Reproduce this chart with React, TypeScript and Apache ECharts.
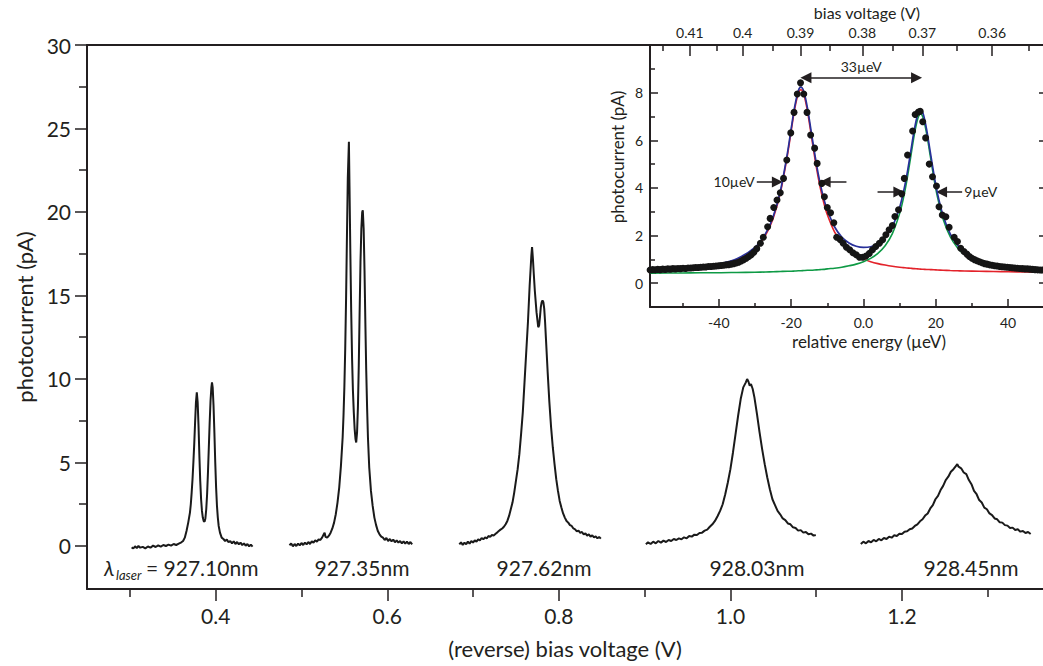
import React, { useEffect, useRef } from 'react';
import * as echarts from 'echarts';

// ---------- main panel data ----------
const mainXMajor = [0.4, 0.6, 0.8, 1.0, 1.2];
const mainXMinor = [0.3, 0.5, 0.7, 0.9, 1.1, 1.3];
const mainYMajor = [0, 5, 10, 15, 20, 25, 30];
const mainYMinor = [2.5, 7.5, 12.5, 17.5, 22.5, 27.5];

const trace927_10: [number, number][] = [
  [0.302, -0.08], [0.304, -0.15], [0.306, -0.02], [0.308, -0.12], [0.310, 0.0], [0.312, -0.1], [0.315, -0.05],
  [0.318, -0.14], [0.321, -0.03], [0.324, -0.1], [0.327, 0.02], [0.330, -0.06], [0.333, 0.04], [0.336, -0.04],
  [0.339, 0.06], [0.342, 0.0], [0.345, 0.08], [0.348, 0.02], [0.351, 0.12], [0.354, 0.06], [0.357, 0.14],
  [0.360, 0.22], [0.362, 0.3], [0.364, 0.5], [0.366, 0.9], [0.368, 1.4], [0.370, 2.0], [0.371, 2.5], [0.372, 3.2],
  [0.373, 4.0], [0.374, 5.0], [0.375, 6.1], [0.376, 7.4], [0.377, 8.6], [0.378, 9.2], [0.379, 8.6], [0.380, 7.2],
  [0.381, 5.4], [0.382, 3.9], [0.383, 2.8], [0.384, 2.1], [0.385, 1.7], [0.386, 1.5], [0.387, 1.45], [0.388, 1.65],
  [0.389, 2.2], [0.390, 3.1], [0.391, 4.4], [0.392, 5.9], [0.393, 7.4], [0.394, 8.7], [0.395, 9.5], [0.3957, 9.8],
  [0.3965, 9.5], [0.3975, 8.4], [0.3985, 6.8], [0.3995, 5.0], [0.4005, 3.5], [0.4015, 2.4], [0.4025, 1.7],
  [0.4035, 1.2], [0.405, 0.8], [0.407, 0.5], [0.409, 0.42], [0.411, 0.3], [0.413, 0.38], [0.415, 0.22],
  [0.417, 0.3], [0.419, 0.16], [0.421, 0.28], [0.423, 0.12], [0.425, 0.24], [0.427, 0.1], [0.429, 0.2],
  [0.431, 0.05], [0.433, 0.16], [0.435, 0.02], [0.437, 0.12], [0.439, -0.02], [0.441, 0.08], [0.443, -0.04],
];

const trace927_35: [number, number][] = [
  [0.486, 0.05], [0.488, 0.15], [0.490, -0.02], [0.492, 0.12], [0.494, 0.0], [0.496, 0.14], [0.498, 0.04],
  [0.500, 0.18], [0.502, 0.06], [0.504, 0.2], [0.506, 0.1], [0.508, 0.24], [0.510, 0.12], [0.512, 0.28],
  [0.514, 0.2], [0.516, 0.34], [0.518, 0.26], [0.520, 0.4], [0.522, 0.36], [0.524, 0.5], [0.526, 0.7],
  [0.527, 0.8], [0.528, 0.55], [0.530, 0.5], [0.532, 0.62], [0.534, 0.8], [0.536, 1.05], [0.538, 1.4],
  [0.540, 1.9], [0.542, 2.6], [0.544, 3.5], [0.546, 4.8], [0.548, 6.5], [0.549, 7.8], [0.550, 9.5],
  [0.551, 11.8], [0.552, 14.8], [0.553, 18.5], [0.554, 22.0], [0.5553, 24.2], [0.556, 21.5], [0.557, 17.5],
  [0.558, 14.0], [0.559, 11.2], [0.560, 9.3], [0.561, 8.0], [0.562, 7.0], [0.563, 6.4], [0.5638, 6.2],
  [0.5648, 6.8], [0.5658, 8.3], [0.5668, 10.8], [0.5678, 14.0], [0.5688, 17.0], [0.5698, 19.0], [0.5708, 20.0],
  [0.5715, 20.1], [0.5725, 19.0], [0.5735, 16.5], [0.5745, 13.3], [0.5755, 10.5], [0.5765, 8.3], [0.5775, 6.5],
  [0.579, 4.7], [0.581, 3.3], [0.583, 2.4], [0.585, 1.7], [0.587, 1.25], [0.589, 0.9], [0.591, 0.7],
  [0.593, 0.56], [0.595, 0.5], [0.597, 0.36], [0.599, 0.48], [0.601, 0.3], [0.603, 0.42], [0.605, 0.28],
  [0.607, 0.38], [0.609, 0.22], [0.611, 0.34], [0.613, 0.2], [0.615, 0.3], [0.617, 0.16], [0.619, 0.28],
  [0.621, 0.14], [0.623, 0.26], [0.625, 0.12], [0.627, 0.24], [0.629, 0.1],
];

const trace927_62: [number, number][] = [
  [0.684, 0.1], [0.686, 0.22], [0.688, 0.06], [0.690, 0.2], [0.692, 0.1], [0.694, 0.26], [0.696, 0.14],
  [0.698, 0.3], [0.700, 0.2], [0.702, 0.34], [0.704, 0.26], [0.706, 0.4], [0.708, 0.34], [0.710, 0.48],
  [0.712, 0.4], [0.714, 0.52], [0.716, 0.46], [0.718, 0.6], [0.720, 0.55], [0.722, 0.66], [0.724, 0.62],
  [0.726, 0.72], [0.728, 0.8], [0.730, 0.9], [0.732, 0.98], [0.734, 1.05], [0.736, 1.15], [0.738, 1.3],
  [0.740, 1.5], [0.742, 1.8], [0.744, 2.2], [0.746, 2.6], [0.748, 3.2], [0.750, 3.9], [0.752, 4.6],
  [0.754, 5.5], [0.756, 6.7], [0.758, 8.0], [0.760, 9.8], [0.762, 11.6], [0.764, 13.4], [0.766, 15.6],
  [0.767, 16.5], [0.768, 17.4], [0.7688, 17.9], [0.7698, 17.2], [0.7708, 16.3], [0.772, 15.3], [0.774, 14.0],
  [0.776, 13.1], [0.777, 13.2], [0.778, 13.7], [0.779, 14.3], [0.780, 14.6], [0.781, 14.7], [0.782, 14.6],
  [0.783, 14.2], [0.784, 13.4], [0.785, 12.4], [0.787, 10.4], [0.789, 8.6], [0.791, 7.1], [0.793, 5.9],
  [0.795, 4.9], [0.797, 4.0], [0.799, 3.3], [0.801, 2.7], [0.803, 2.3], [0.805, 1.95], [0.807, 1.7],
  [0.809, 1.5], [0.811, 1.4], [0.813, 1.25], [0.815, 1.2], [0.817, 1.05], [0.819, 1.0], [0.821, 0.88],
  [0.823, 0.92], [0.825, 0.78], [0.827, 0.84], [0.829, 0.7], [0.831, 0.76], [0.833, 0.62], [0.835, 0.7],
  [0.837, 0.56], [0.839, 0.64], [0.841, 0.52], [0.843, 0.58], [0.845, 0.46], [0.847, 0.54], [0.849, 0.44],
];

const trace928_03: [number, number][] = [
  [0.9015, 0.1], [0.904, 0.22], [0.907, 0.12], [0.910, 0.26], [0.913, 0.16], [0.916, 0.3], [0.919, 0.2],
  [0.922, 0.32], [0.925, 0.24], [0.928, 0.36], [0.931, 0.3], [0.934, 0.42], [0.937, 0.36], [0.940, 0.46],
  [0.943, 0.4], [0.946, 0.52], [0.949, 0.46], [0.952, 0.6], [0.955, 0.56], [0.958, 0.68], [0.961, 0.66],
  [0.964, 0.78], [0.967, 0.8], [0.970, 0.92], [0.973, 0.98], [0.976, 1.15], [0.979, 1.3], [0.982, 1.5],
  [0.985, 1.78], [0.988, 2.1], [0.991, 2.5], [0.994, 3.1], [0.997, 3.8], [1.000, 4.6], [1.003, 5.6],
  [1.006, 6.7], [1.009, 7.8], [1.012, 8.8], [1.015, 9.5], [1.018, 9.8], [1.0195, 10.0], [1.021, 9.85],
  [1.0225, 9.6], [1.024, 9.7], [1.026, 9.4], [1.028, 8.9], [1.031, 7.9], [1.034, 6.8], [1.037, 5.8],
  [1.040, 4.9], [1.043, 4.1], [1.046, 3.4], [1.049, 2.8], [1.052, 2.45], [1.055, 2.1], [1.058, 1.9],
  [1.061, 1.65], [1.064, 1.55], [1.067, 1.35], [1.070, 1.3], [1.073, 1.12], [1.076, 1.08], [1.079, 0.92],
  [1.082, 0.95], [1.085, 0.8], [1.088, 0.84], [1.091, 0.7], [1.094, 0.74], [1.097, 0.62], [1.0995, 0.66],
];

const trace928_45: [number, number][] = [
  [1.152, 0.12], [1.155, 0.26], [1.158, 0.16], [1.161, 0.3], [1.164, 0.22], [1.167, 0.36], [1.170, 0.28],
  [1.173, 0.42], [1.176, 0.34], [1.179, 0.48], [1.182, 0.42], [1.185, 0.56], [1.188, 0.5], [1.191, 0.64],
  [1.194, 0.6], [1.197, 0.74], [1.200, 0.72], [1.203, 0.86], [1.206, 0.88], [1.209, 1.0], [1.212, 1.05],
  [1.215, 1.2], [1.218, 1.3], [1.221, 1.48], [1.224, 1.6], [1.227, 1.82], [1.230, 1.95], [1.233, 2.25],
  [1.236, 2.45], [1.239, 2.8], [1.242, 3.0], [1.245, 3.35], [1.248, 3.6], [1.251, 3.95], [1.254, 4.15],
  [1.257, 4.45], [1.260, 4.6], [1.263, 4.8], [1.2645, 4.9], [1.266, 4.75], [1.269, 4.65], [1.272, 4.4],
  [1.275, 4.3], [1.278, 3.95], [1.281, 3.7], [1.284, 3.3], [1.287, 3.1], [1.290, 2.75], [1.293, 2.6],
  [1.296, 2.3], [1.299, 2.2], [1.302, 1.95], [1.305, 1.85], [1.308, 1.65], [1.311, 1.6], [1.314, 1.42],
  [1.317, 1.4], [1.320, 1.25], [1.323, 1.22], [1.326, 1.08], [1.329, 1.1], [1.332, 0.96], [1.335, 1.0],
  [1.338, 0.86], [1.341, 0.9], [1.344, 0.78], [1.347, 0.84], [1.350, 0.72],
];

const laserWavelengths = ['927.10nm', '927.35nm', '927.62nm', '928.03nm', '928.45nm'];

// ---------- inset data ----------
const insetEnergyMajor = [-40, -20, 0, 20, 40];
const insetEnergyMinor = [-50, -30, -10, 10, 30];
const insetCurrentMajor = [0, 2, 4, 6, 8];
const insetCurrentMinor = [1, 3, 5, 7, 9];
const biasVoltageLabels = ['0.41', '0.4', '0.39', '0.38', '0.37', '0.36'];
const biasVoltageMajorEnergy = [-48.0, -33.4, -17.4, -0.3, 16.3, 35.6];
const biasVoltageMinorEnergy = [-55.4, -40.6, -25.1, -9.4, 8.0, 25.9, 45.8];

const insetDots: [number, number][] = [
  [-59, 0.55], [-58.3, 0.57], [-57.6, 0.56], [-56.9, 0.58], [-56.2, 0.57], [-55.5, 0.59], [-54.8, 0.58],
  [-54.1, 0.6], [-53.4, 0.59], [-52.7, 0.61], [-52, 0.6], [-51.3, 0.62], [-50.6, 0.61], [-49.9, 0.63],
  [-49.2, 0.62], [-48.5, 0.64], [-47.8, 0.64], [-47.1, 0.65], [-46.4, 0.66], [-45.7, 0.66], [-45, 0.67],
  [-44.3, 0.68], [-43.6, 0.68], [-42.9, 0.7], [-42.2, 0.7], [-41.5, 0.71], [-40.8, 0.72], [-40.1, 0.73],
  [-39.4, 0.74], [-38.7, 0.75], [-38, 0.77], [-37.3, 0.78], [-36.6, 0.8], [-35.9, 0.82], [-35.2, 0.85],
  [-34.5, 0.88], [-33.8, 0.93], [-33.1, 0.99], [-32.4, 1.05], [-31.7, 1.12], [-31, 1.2], [-30.3, 1.3],
  [-29.5, 1.45], [-28.5, 1.68], [-27.7, 1.93], [-26.5, 2.37], [-25.8, 2.72], [-24.8, 3.18], [-23.9, 3.49],
  [-23.0, 3.8], [-22.1, 4.4], [-21.2, 5.17], [-20.1, 6.31], [-19.2, 7.17], [-18.3, 7.94], [-17.4, 8.41],
  [-16.5, 7.94], [-15.6, 7.17], [-14.6, 6.22], [-13.5, 5.67], [-12.8, 5.03], [-11.5, 4.19], [-10.8, 3.63],
  [-10.0, 3.18], [-9.1, 2.96], [-8.2, 2.54], [-7.4, 1.93], [-6.5, 1.84], [-5.6, 1.68], [-4.7, 1.51],
  [-3.8, 1.4], [-2.9, 1.28], [-2.0, 1.19], [-1.1, 1.09], [-0.2, 1.09], [0.7, 1.14], [1.6, 1.25], [2.5, 1.4],
  [3.4, 1.54], [4.4, 1.68], [5.3, 1.82], [6.2, 2.03], [7.1, 2.24], [8.0, 2.42], [8.7, 2.8], [9.7, 3.08],
  [10.6, 3.75], [11.3, 4.4], [12.2, 5.38], [13.6, 6.39], [14.3, 7.08], [15.2, 7.19], [15.7, 7.22],
  [16.4, 6.78], [17.2, 6.1], [18.2, 5.0], [19.1, 4.47], [20.2, 4.08], [20.9, 3.21], [21.8, 2.86],
  [22.8, 2.79], [23.7, 2.35], [25.1, 1.93], [26.0, 1.75], [26.9, 1.47], [27.8, 1.33], [28.6, 1.22],
  [29.3, 1.12], [30, 1.05], [30.7, 0.99], [31.4, 0.94], [32.1, 0.9], [32.8, 0.86], [33.5, 0.82], [34.2, 0.8],
  [34.9, 0.77], [35.6, 0.75], [36.3, 0.73], [37, 0.72], [37.7, 0.7], [38.4, 0.69], [39.1, 0.68], [39.8, 0.67],
  [40.5, 0.66], [41.2, 0.65], [41.9, 0.64], [42.6, 0.63], [43.3, 0.62], [44, 0.61], [44.7, 0.6], [45.4, 0.6],
  [46.1, 0.59], [46.8, 0.58], [47.5, 0.57], [48.2, 0.56], [48.9, 0.55], [49.5, 0.55],
];

const fitEnergy = [
  -59, -50, -45, -40, -35, -30, -27, -25, -23, -21, -20, -19, -18, -17.3, -16.5, -15.5, -14.5, -13, -12, -11,
  -10, -8, -6, -4, -2, 0, 2, 4, 6, 8, 10, 11, 12, 13, 14, 15, 15.8, 16.5, 17.5, 18.5, 19.5, 20.5, 22, 24, 26,
  28, 32, 36, 40, 45, 49.6,
];
const fitRed = [
  0.53, 0.6, 0.66, 0.78, 0.99, 1.45, 2.04, 2.71, 3.77, 5.39, 6.38, 7.32, 7.97, 8.12, 7.93, 7.24, 6.28, 4.85,
  4.05, 3.4, 2.88, 2.15, 1.68, 1.37, 1.16, 1.01, 0.9, 0.82, 0.76, 0.71, 0.67, 0.655, 0.64, 0.625, 0.61, 0.6,
  0.59, 0.585, 0.575, 0.57, 0.565, 0.555, 0.545, 0.53, 0.52, 0.51, 0.5, 0.49, 0.48, 0.47, 0.46,
];
const fitGreen = [
  0.42, 0.43, 0.44, 0.44, 0.45, 0.46, 0.47, 0.48, 0.49, 0.5, 0.5, 0.51, 0.52, 0.52, 0.53, 0.54, 0.54, 0.56,
  0.57, 0.58, 0.6, 0.63, 0.67, 0.73, 0.8, 0.9, 1.04, 1.25, 1.57, 2.08, 2.92, 3.53, 4.31, 5.23, 6.18, 6.89,
  7.1, 6.94, 6.26, 5.33, 4.4, 3.6, 2.71, 1.95, 1.49, 1.2, 0.88, 0.72, 0.62, 0.56, 0.52,
];
const fitSum = [
  0.54, 0.62, 0.69, 0.81, 1.03, 1.5, 2.1, 2.78, 3.85, 5.48, 6.47, 7.42, 8.08, 8.23, 8.05, 7.37, 6.41, 5.0,
  4.21, 3.57, 3.07, 2.37, 1.94, 1.69, 1.55, 1.5, 1.53, 1.66, 1.92, 2.38, 3.18, 3.78, 4.54, 5.45, 6.38, 7.08,
  7.28, 7.12, 6.43, 5.49, 4.56, 3.75, 2.85, 2.07, 1.6, 1.3, 0.97, 0.8, 0.69, 0.62, 0.57,
];

// splitting arrow: [fromE, toE, current, label]
const splittingArrow: [number, number, number, string] = [-17.4, 16.2, 8.62, '33µeV'];
// linewidth arrows: [tailE, tipE, current, label]
const linewidthArrows: [number, number, number, string][] = [
  [-29.5, -22.3, 4.25, '10µeV'],
  [-4.7, -12.1, 4.25, ''],
  [3.9, 11.3, 3.83, ''],
  [27.3, 20.1, 3.83, '9µeV'],
];

const FONT = 'Lato, "Open Sans", "DejaVu Sans", sans-serif';
const INK = '#231f20';

function pairs(xs: number[], ys: number[]) {
  return xs.map((x, i) => [x, ys[i]]);
}

function buildOption() {
  const tickLine = { color: INK, width: 1.5 };
  const axisLine = { show: true, onZero: false, lineStyle: { color: INK, width: 2 } };
  const noLine = { show: false, onZero: false };
  const ARROW = 11;
  const tipShift = 1.5; // energy units of half an arrow head

  const arrowData: any[] = [];
  {
    const [a, b, c, lab] = splittingArrow;
    arrowData.push([
      {
        coord: [a + tipShift, c],
        symbol: 'triangle',
        label: {
          show: true, position: 'insideMiddleTop', distance: 4, formatter: lab,
          color: INK, fontSize: 14, fontFamily: FONT,
        },
      },
      { coord: [b - tipShift, c], symbol: 'triangle' },
    ]);
  }
  linewidthArrows.forEach(([tail, tip, c, lab]) => {
    const dir = tip > tail ? 1 : -1;
    arrowData.push([
      {
        coord: [tail, c],
        symbol: 'none',
        label: {
          show: lab !== '', position: 'start', distance: 2, formatter: lab,
          color: INK, fontSize: 14, fontFamily: FONT,
        },
      },
      { coord: [tip - dir * tipShift, c], symbol: 'triangle' },
    ]);
  });

  const traceSeries = [trace927_10, trace927_35, trace927_62, trace928_03, trace928_45].map((d, i) => ({
    type: 'line',
    name: laserWavelengths[i],
    xAxisIndex: 0,
    yAxisIndex: 0,
    data: d,
    showSymbol: false,
    symbol: 'none',
    lineStyle: { color: '#1a1a1a', width: 2 },
    silent: true,
    z: 3,
  }));

  return {
    animation: false,
    backgroundColor: '#ffffff',
    textStyle: { fontFamily: FONT, color: INK },
    grid: [
      { left: 87, top: 45, width: 957, height: 544, show: false },
      { left: 650, top: 45, width: 394, height: 262, show: true, backgroundColor: '#ffffff', borderWidth: 0 },
    ],
    xAxis: [
      {
        type: 'value', gridIndex: 0, position: 'bottom', min: 0.25, max: 1.3644,
        axisLine, splitLine: { show: false },
        axisTick: { show: true, inside: false, length: 12, customValues: mainXMajor, lineStyle: tickLine },
        axisLabel: {
          show: true, customValues: mainXMajor, margin: 16, fontSize: 21, color: INK, fontFamily: FONT,
          formatter: (v: number) => v.toFixed(1),
        },
        name: '(reverse) bias voltage (V)', nameLocation: 'middle', nameGap: 48,
        nameTextStyle: { fontSize: 22, color: INK, fontFamily: FONT },
      },
      {
        type: 'value', gridIndex: 0, position: 'bottom', min: 0.25, max: 1.3644,
        axisLine: noLine, splitLine: { show: false },
        axisTick: { show: true, inside: false, length: 8, customValues: mainXMinor, lineStyle: tickLine },
        axisLabel: { show: false },
      },
      {
        type: 'value', gridIndex: 0, position: 'top', min: 0.25, max: 1.3644,
        axisLine, splitLine: { show: false }, axisTick: { show: false }, axisLabel: { show: false },
      },
      {
        type: 'value', gridIndex: 1, position: 'bottom', min: -59.03, max: 49.66,
        axisLine, splitLine: { show: false },
        axisTick: { show: true, inside: true, length: 8, customValues: insetEnergyMajor, lineStyle: tickLine },
        axisLabel: {
          show: true, customValues: insetEnergyMajor, margin: 8, fontSize: 14, color: INK, fontFamily: FONT,
          formatter: (v: number) => (v === 0 ? '0.0' : String(v)),
        },
      },
      {
        type: 'value', gridIndex: 1, position: 'bottom', min: -59.03, max: 49.66,
        axisLine: noLine, splitLine: { show: false },
        axisTick: { show: true, inside: true, length: 4, customValues: insetEnergyMinor, lineStyle: tickLine },
        axisLabel: { show: false },
      },
      {
        type: 'value', gridIndex: 1, position: 'top', min: -59.03, max: 49.66,
        axisLine, splitLine: { show: false },
        axisTick: { show: true, inside: true, length: 11, customValues: biasVoltageMajorEnergy, lineStyle: tickLine },
        axisLabel: {
          show: true, customValues: biasVoltageMajorEnergy, margin: 6, fontSize: 14, color: INK, fontFamily: FONT,
          formatter: (v: number) => {
            const i = biasVoltageMajorEnergy.findIndex((e) => Math.abs(e - v) < 1e-6);
            return i >= 0 ? biasVoltageLabels[i] : '';
          },
        },
      },
      {
        type: 'value', gridIndex: 1, position: 'top', min: -59.03, max: 49.66,
        axisLine: noLine, splitLine: { show: false },
        axisTick: { show: true, inside: true, length: 6, customValues: biasVoltageMinorEnergy, lineStyle: tickLine },
        axisLabel: { show: false },
      },
    ],
    yAxis: [
      {
        type: 'value', gridIndex: 0, position: 'left', min: -2.575, max: 30,
        axisLine, splitLine: { show: false },
        axisTick: { show: true, inside: false, length: 12, customValues: mainYMajor, lineStyle: tickLine },
        axisLabel: { show: true, customValues: mainYMajor, margin: 16, fontSize: 21, color: INK, fontFamily: FONT },
        name: 'photocurrent (pA)', nameLocation: 'middle', nameGap: 50, nameRotate: 90,
        nameTextStyle: { fontSize: 22, color: INK, fontFamily: FONT },
      },
      {
        type: 'value', gridIndex: 0, position: 'left', min: -2.575, max: 30,
        axisLine: noLine, splitLine: { show: false },
        axisTick: { show: true, inside: false, length: 8, customValues: mainYMinor, lineStyle: tickLine },
        axisLabel: { show: false },
      },
      {
        type: 'value', gridIndex: 1, position: 'left', min: -1, max: 10,
        axisLine, splitLine: { show: false },
        axisTick: { show: true, inside: true, length: 8, customValues: insetCurrentMajor, lineStyle: tickLine },
        axisLabel: { show: true, customValues: insetCurrentMajor, margin: 7, fontSize: 14, color: INK, fontFamily: FONT },
      },
      {
        type: 'value', gridIndex: 1, position: 'left', min: -1, max: 10,
        axisLine: noLine, splitLine: { show: false },
        axisTick: { show: true, inside: true, length: 5, customValues: insetCurrentMinor, lineStyle: tickLine },
        axisLabel: { show: false },
      },
      {
        type: 'value', gridIndex: 1, position: 'right', min: -1, max: 10,
        axisLine: noLine, splitLine: { show: false },
        axisTick: { show: true, inside: true, length: 4, customValues: insetCurrentMajor, lineStyle: tickLine },
        axisLabel: { show: false },
      },
    ],
    series: [
      ...traceSeries,
      {
        type: 'line', name: 'fit peak 1', xAxisIndex: 3, yAxisIndex: 2, data: pairs(fitEnergy, fitRed),
        smooth: 0.3, showSymbol: false, symbol: 'none', lineStyle: { color: '#e3222a', width: 1.6 }, z: 4, silent: true,
      },
      {
        type: 'line', name: 'fit peak 2', xAxisIndex: 3, yAxisIndex: 2, data: pairs(fitEnergy, fitGreen),
        smooth: 0.3, showSymbol: false, symbol: 'none', lineStyle: { color: '#0e9a45', width: 1.6 }, z: 4, silent: true,
      },
      {
        type: 'line', name: 'fit sum', xAxisIndex: 3, yAxisIndex: 2, data: pairs(fitEnergy, fitSum),
        smooth: 0.3, showSymbol: false, symbol: 'none', lineStyle: { color: '#28309a', width: 1.7 }, z: 5, silent: true,
      },
      {
        type: 'scatter', name: 'data', xAxisIndex: 3, yAxisIndex: 2, data: insetDots,
        symbol: 'circle', symbolSize: 7, itemStyle: { color: '#151515', opacity: 1 }, z: 6, silent: true, clip: false,
        markLine: {
          silent: true, symbol: ['none', 'triangle'], symbolSize: ARROW, precision: 3,
          lineStyle: { color: INK, width: 1.5, type: 'solid' },
          label: { show: false },
          emphasis: { disabled: true },
          data: arrowData,
        },
      },
    ],
    graphic: [
      { type: 'text', x: 104, y: 567, style: { text: 'λ', fontSize: 21, fontStyle: 'italic', fontFamily: FONT, fill: INK, align: 'left', verticalAlign: 'middle' } },
      { type: 'text', x: 116, y: 575, style: { text: 'laser', fontSize: 13, fontStyle: 'italic', fontFamily: FONT, fill: INK, align: 'left', verticalAlign: 'middle' } },
      { type: 'text', x: 146, y: 567, style: { text: '= ' + laserWavelengths[0], fontSize: 21, fontFamily: FONT, fill: INK, align: 'left', verticalAlign: 'middle' } },
      { type: 'text', x: 362, y: 567, style: { text: laserWavelengths[1], fontSize: 21, fontFamily: FONT, fill: INK, align: 'center', verticalAlign: 'middle' } },
      { type: 'text', x: 544, y: 567, style: { text: laserWavelengths[2], fontSize: 21, fontFamily: FONT, fill: INK, align: 'center', verticalAlign: 'middle' } },
      { type: 'text', x: 757, y: 567, style: { text: laserWavelengths[3], fontSize: 21, fontFamily: FONT, fill: INK, align: 'center', verticalAlign: 'middle' } },
      { type: 'text', x: 971, y: 567, style: { text: laserWavelengths[4], fontSize: 21, fontFamily: FONT, fill: INK, align: 'center', verticalAlign: 'middle' } },
      { type: 'text', x: 867, y: 12, style: { text: 'bias voltage (V)', fontSize: 16, fontFamily: FONT, fill: INK, align: 'center', verticalAlign: 'middle' } },
      { type: 'text', x: 869, y: 341, style: { text: 'relative energy (µeV)', fontSize: 17, fontFamily: FONT, fill: INK, align: 'center', verticalAlign: 'middle' } },
      { type: 'text', x: 617, y: 157, rotation: Math.PI / 2, style: { text: 'photocurrent (pA)', fontSize: 17, fontFamily: FONT, fill: INK, align: 'center', verticalAlign: 'middle' } },
    ],
  };
}

export default function App() {
  const ref = useRef<HTMLDivElement>(null);
  useEffect(() => {
    if (!ref.current) return;
    const chart = echarts.init(ref.current, undefined, { renderer: 'svg' });
    chart.setOption(buildOption() as any);
    return () => chart.dispose();
  }, []);
  return (
    <div
      ref={ref}
      style={{ position: 'absolute', left: 0, top: 0, width: 1043, height: 666, background: '#fff' }}
    />
  );
}
